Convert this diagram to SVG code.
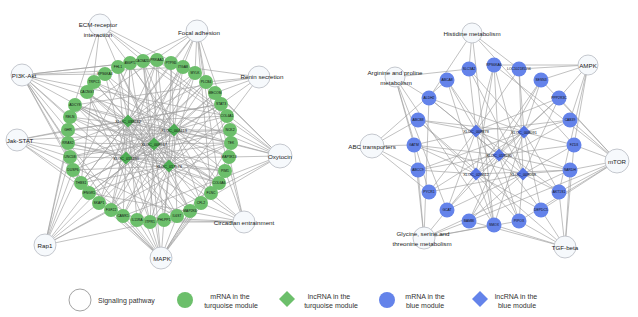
<svg xmlns="http://www.w3.org/2000/svg" xmlns:xlink="http://www.w3.org/1999/xlink" width="638" height="317" viewBox="0 0 638 317">
<style>
.e{stroke:#9f9f9f;stroke-width:0.65;fill:none}
.pw{fill:#f6f9fc;stroke:#b6bac2;stroke-width:0.8}
.gm{fill:#6cbf6b}
.gd{fill:#4eae55}
.bm{fill:#6483ea}
.bd{fill:#5675e4}
.t{font-family:"Liberation Sans",Arial,sans-serif;fill:#222;text-anchor:middle;dominant-baseline:central}
.p{font-size:6.2px}
.n{font-size:3.4px;fill:#111}
.s{font-size:2.8px}
.d{font-size:3.9px;fill:#111}
.lg{font-size:7px;fill:#333}
</style>
<defs>
<path id="dm" d="M0 -6.5L6.5 0 0 6.5 -6.5 0Z"/>
<path id="dml" d="M0 -8L8 0 0 8 -8 0Z"/>
</defs>
<rect width="638" height="317" fill="#fff"/>
<g id="connectors" class="e">
<path d="M128 121L87 92M128 121L94 82M128 121L118 67M128 121L130 63M128 121L157 60M128 121L171 63M128 121L195 73M128 121L206 82M128 121L221 104M128 121L227 116M128 121L231 143M128 121L229 157M128 121L219 183M128 121L211 193M128 121L190 211M128 121L177 216M128 121L150 222M128 121L137 220M128 121L111 210M128 121L99 203M128 121L81 183M128 121L73 170M128 121L68 143M128 121L68 130M128 121L75 105"/>
<path d="M174 130L94 82M174 130L105 74M174 130L130 63M174 130L143 61M174 130L171 63M174 130L183 67M174 130L206 82M174 130L215 93M174 130L227 116M174 130L230 130M174 130L229 157M174 130L225 171M174 130L211 193M174 130L201 203M174 130L177 216M174 130L164 220M174 130L137 220M174 130L123 216M174 130L99 203M174 130L89 193M174 130L73 170M174 130L70 157M174 130L68 130M174 130L70 117"/>
<path d="M154 144L87 92M154 144L105 74M154 144L118 67M154 144L143 61M154 144L157 60M154 144L183 67M154 144L195 73M154 144L215 93M154 144L221 104M154 144L230 130M154 144L231 143M154 144L225 171M154 144L219 183M154 144L201 203M154 144L190 211M154 144L164 220M154 144L150 222M154 144L123 216M154 144L111 210M154 144L89 193M154 144L81 183M154 144L70 157M154 144L68 143M154 144L70 117M154 144L75 105"/>
<path d="M126 158L87 92M126 158L105 74M126 158L118 67M126 158L130 63M126 158L157 60M126 158L183 67M126 158L195 73M126 158L206 82M126 158L221 104M126 158L230 130M126 158L231 143M126 158L229 157M126 158L219 183M126 158L201 203M126 158L190 211M126 158L177 216M126 158L150 222M126 158L123 216M126 158L111 210M126 158L99 203M126 158L81 183M126 158L70 157M126 158L68 143M126 158L68 130M126 158L75 105"/>
<path d="M169 166L87 92M169 166L94 82M169 166L118 67M169 166L143 61M169 166L157 60M169 166L171 63M169 166L195 73M169 166L215 93M169 166L221 104M169 166L227 116M169 166L231 143M169 166L225 171M169 166L219 183M169 166L211 193M169 166L190 211M169 166L164 220M169 166L150 222M169 166L137 220M169 166L111 210M169 166L89 193M169 166L81 183M169 166L73 170M169 166L68 143M169 166L70 117M169 166L75 105"/>
<path d="M100 25L118 67M100 25L143 61M100 25L183 67M100 25L227 116M100 25L219 183M100 25L81 183M100 25L70 117"/>
<path d="M197 31L130 63M197 31L171 63M197 31L183 67M197 31L195 73M197 31L206 82M197 31L227 116M197 31L219 183M197 31L211 193M197 31L111 210M197 31L81 183M197 31L70 117"/>
<path d="M259 77L143 61M259 77L206 82M259 77L215 93M259 77L221 104M259 77L150 222M259 77L75 105"/>
<path d="M22 75L105 74M22 75L130 63M22 75L157 60M22 75L183 67M22 75L227 116M22 75L231 143M22 75L219 183M22 75L177 216M22 75L111 210M22 75L89 193M22 75L81 183M22 75L68 143M22 75L68 130M22 75L70 117"/>
<path d="M17 140L221 104M17 140L230 130M17 140L225 171M17 140L177 216M17 140L137 220M17 140L89 193M17 140L70 157M17 140L68 130"/>
<path d="M280 156L94 82M280 156L143 61M280 156L157 60M280 156L195 73M280 156L206 82M280 156L230 130M280 156L231 143M280 156L229 157M280 156L201 203M280 156L150 222M280 156L123 216M280 156L75 105"/>
<path d="M45 245L130 63M45 245L183 67M45 245L206 82M45 245L231 143M45 245L164 220M45 245L111 210M45 245L99 203M45 245L73 170M45 245L70 157M45 245L68 143M45 245L75 105"/>
<path d="M161 258L87 92M161 258L130 63M161 258L143 61M161 258L231 143M161 258L229 157M161 258L211 193M161 258L201 203M161 258L190 211M161 258L177 216M161 258L164 220M161 258L150 222M161 258L137 220M161 258L123 216M161 258L111 210M161 258L99 203M161 258L73 170M161 258L68 143"/>
<path d="M244 222L206 82M244 222L215 93M244 222L225 171M244 222L211 193M244 222L201 203M244 222L150 222M244 222L137 220M244 222L123 216M244 222L89 193M244 222L75 105"/>
<path d="M476 131L494 65M476 131L519 69M476 131L559 98M476 131L570 120M476 131L570 170M476 131L559 192M476 131L519 221M476 131L494 225M476 131L447 210M476 131L429 192M476 131L414 145M476 131L418 120M476 131L447 80M476 131L469 69"/>
<path d="M524 132L519 69M524 132L541 80M524 132L570 120M524 132L574 145M524 132L559 192M524 132L541 210M524 132L494 225M524 132L469 221M524 132L429 192M524 132L418 170M524 132L418 120M524 132L429 98M524 132L469 69"/>
<path d="M499 155L494 65M499 155L541 80M499 155L559 98M499 155L574 145M499 155L570 170M499 155L541 210M499 155L519 221M499 155L469 221M499 155L447 210M499 155L418 170M499 155L414 145M499 155L429 98M499 155L447 80"/>
<path d="M476 174L494 65M476 174L541 80M476 174L570 120M476 174L570 170M476 174L541 210M476 174L494 225M476 174L447 210M476 174L418 170M476 174L418 120M476 174L447 80M476 174L559 98M476 174L519 221M476 174L414 145"/>
<path d="M523 174L519 69M523 174L559 98M523 174L574 145M523 174L559 192M523 174L519 221M523 174L469 221M523 174L429 192M523 174L414 145M523 174L429 98M523 174L469 69M523 174L494 65M523 174L570 170M523 174L447 210"/>
<path d="M472 33L429 98M472 33L519 69M472 33L494 225M472 33L574 145M472 33L469 69"/>
<path d="M395 77L429 98M395 77L429 192M395 77L414 145M395 77L494 225M395 77L469 69M395 77L447 210"/>
<path d="M588 65L494 65M588 65L519 69M588 65L541 80M588 65L559 98M588 65L570 120M588 65L574 145M588 65L559 192"/>
<path d="M372 146L429 192M372 146L418 170M372 146L414 145M372 146L418 120M372 146L447 80"/>
<path d="M617 161L494 65M617 161L541 80M617 161L559 98M617 161L570 120M617 161L574 145M617 161L570 170M617 161L559 192M617 161L541 210M617 161L519 221M617 161L469 221"/>
<path d="M424 238L570 170M424 238L519 221M424 238L494 225M424 238L469 221M424 238L447 210M424 238L418 170M424 238L414 145M424 238L429 98"/>
<path d="M565 247L574 145M565 247L570 170M565 247L559 192M565 247L541 210M565 247L519 221M565 247L494 225M565 247L469 221M565 247L418 120"/>
</g>
<g id="pathways">
<g id="p_ecm"><circle class="pw" cx="100" cy="25" r="11"/><text class="t p" x="98" y="24">ECM-receptor</text><text class="t p" x="98" y="34">interaction</text></g>
<g id="p_focal"><circle class="pw" cx="197" cy="31" r="11"/><text class="t p" x="199" y="32">Focal adhesion</text></g>
<g id="p_renin"><circle class="pw" cx="259" cy="77" r="11"/><text class="t p" x="262" y="76">Renin secretion</text></g>
<g id="p_pi3k"><circle class="pw" cx="22" cy="75" r="11"/><text class="t p" x="24" y="75">PI3K-Akt</text></g>
<g id="p_jak"><circle class="pw" cx="17" cy="140" r="11"/><text class="t p" x="20" y="140">Jak-STAT</text></g>
<g id="p_oxy"><circle class="pw" cx="280" cy="156" r="12"/><text class="t p" x="280" y="156">Oxytocin</text></g>
<g id="p_rap1"><circle class="pw" cx="45" cy="245" r="11"/><text class="t p" x="45" y="245">Rap1</text></g>
<g id="p_mapk"><circle class="pw" cx="161" cy="258" r="11"/><text class="t p" x="162" y="258">MAPK</text></g>
<g id="p_circ"><circle class="pw" cx="244" cy="222" r="11"/><text class="t p" x="244" y="222">Circadian entrainment</text></g>
<g id="p_his"><circle class="pw" cx="472" cy="33" r="10"/><text class="t p" x="472" y="33">Histidine metabolism</text></g>
<g id="p_arg"><circle class="pw" cx="395" cy="77" r="10"/><text class="t p" x="395" y="72">Arginine and proline</text><text class="t p" x="396" y="82">metabolism</text></g>
<g id="p_ampk"><circle class="pw" cx="588" cy="65" r="10"/><text class="t p" x="588" y="65">AMPK</text></g>
<g id="p_abc"><circle class="pw" cx="372" cy="146" r="12"/><text class="t p" x="372" y="146">ABC transporters</text></g>
<g id="p_mtor"><circle class="pw" cx="617" cy="161" r="12"/><text class="t p" x="617" y="161">mTOR</text></g>
<g id="p_gly"><circle class="pw" cx="424" cy="238" r="11"/><text class="t p" x="423" y="233">Glycine, serine and</text><text class="t p" x="422" y="243">threonine metabolism</text></g>
<g id="p_tgf"><circle class="pw" cx="565" cy="247" r="11"/><text class="t p" x="565" y="247">TGF-beta</text></g>
</g>
<g id="turquoise_mrna">
<g id="g1"><circle class="gm" cx="87" cy="92" r="7"/><text class="t n" x="87" y="92">CACNG7</text></g>
<g id="g2"><circle class="gm" cx="94" cy="82" r="7"/><text class="t n" x="94" y="82">TRPC1</text></g>
<g id="g3"><circle class="gm" cx="105" cy="74" r="7"/><text class="t n" x="105" y="74">RPS6KA3</text></g>
<g id="g4"><circle class="gm" cx="118" cy="67" r="7"/><text class="t n" x="118" y="67">FHL1</text></g>
<g id="g5"><circle class="gm" cx="130" cy="63" r="7"/><text class="t n s" x="130" y="63">ANGPT1</text></g>
<g id="g6"><circle class="gm" cx="143" cy="61" r="7"/><text class="t n s" x="143" y="61">CACNA2D1</text></g>
<g id="g7"><circle class="gm" cx="157" cy="60" r="7"/><text class="t n" x="157" y="60">PRKAA2</text></g>
<g id="g8"><circle class="gm" cx="171" cy="63" r="7"/><text class="t n" x="171" y="63">PTPN5</text></g>
<g id="g9"><circle class="gm" cx="183" cy="67" r="7"/><text class="t n" x="183" y="67">ITGA8</text></g>
<g id="g10"><circle class="gm" cx="195" cy="73" r="7"/><text class="t n" x="195" y="73">MYLK</text></g>
<g id="g11"><circle class="gm" cx="206" cy="82" r="7"/><text class="t n" x="206" y="82">PLCB4</text></g>
<g id="g12"><circle class="gm" cx="215" cy="93" r="7"/><text class="t n" x="215" y="93">MECOM</text></g>
<g id="g13"><circle class="gm" cx="221" cy="104" r="7"/><text class="t n" x="221" y="104">STAT3</text></g>
<g id="g14"><circle class="gm" cx="227" cy="116" r="7"/><text class="t n" x="227" y="116">COL4A1</text></g>
<g id="g15"><circle class="gm" cx="230" cy="130" r="7"/><text class="t n" x="230" y="130">NCK2</text></g>
<g id="g16"><circle class="gm" cx="231" cy="143" r="7"/><text class="t n" x="231" y="143">TEK</text></g>
<g id="g17"><circle class="gm" cx="229" cy="157" r="7"/><text class="t n" x="229" y="157">MAP3K13</text></g>
<g id="g18"><circle class="gm" cx="225" cy="171" r="7"/><text class="t n" x="225" y="171">PIM1</text></g>
<g id="g19"><circle class="gm" cx="219" cy="183" r="7"/><text class="t n" x="219" y="183">COL6A6</text></g>
<g id="g20"><circle class="gm" cx="211" cy="193" r="7"/><text class="t n" x="211" y="193">FLNC</text></g>
<g id="g21"><circle class="gm" cx="201" cy="203" r="7"/><text class="t n" x="201" y="203">CFL2</text></g>
<g id="g22"><circle class="gm" cx="190" cy="211" r="7"/><text class="t n" x="190" y="211">MAP2K6</text></g>
<g id="g23"><circle class="gm" cx="177" cy="216" r="7"/><text class="t n" x="177" y="216">IL6ST</text></g>
<g id="g24"><circle class="gm" cx="164" cy="220" r="7"/><text class="t n" x="164" y="220">PHLPP1</text></g>
<g id="g25"><circle class="gm" cx="150" cy="222" r="7"/><text class="t n" x="150" y="222">ITPR1</text></g>
<g id="g26"><circle class="gm" cx="137" cy="220" r="7"/><text class="t n" x="137" y="220">IL11RA</text></g>
<g id="g27"><circle class="gm" cx="123" cy="216" r="7"/><text class="t n" x="123" y="216">CAMK1</text></g>
<g id="g28"><circle class="gm" cx="111" cy="210" r="7"/><text class="t n" x="111" y="210">FGF22</text></g>
<g id="g29"><circle class="gm" cx="99" cy="203" r="7"/><text class="t n" x="99" y="203">SKAP1</text></g>
<g id="g30"><circle class="gm" cx="89" cy="193" r="7"/><text class="t n" x="89" y="193">IFNGR1</text></g>
<g id="g31"><circle class="gm" cx="81" cy="183" r="7"/><text class="t n" x="81" y="183">THBS1</text></g>
<g id="g32"><circle class="gm" cx="73" cy="170" r="7"/><text class="t n" x="73" y="170">DUSP6</text></g>
<g id="g33"><circle class="gm" cx="70" cy="157" r="7"/><text class="t n" x="70" y="157">UNC5B</text></g>
<g id="g34"><circle class="gm" cx="68" cy="143" r="7"/><text class="t n" x="68" y="143">RRAS2</text></g>
<g id="g35"><circle class="gm" cx="68" cy="130" r="7"/><text class="t n" x="68" y="130">GHR</text></g>
<g id="g36"><circle class="gm" cx="70" cy="117" r="7"/><text class="t n" x="70" y="117">RELN</text></g>
<g id="g37"><circle class="gm" cx="75" cy="105" r="7"/><text class="t n" x="75" y="105">ADCY8</text></g>
</g>
<g id="turquoise_lncrna">
<g id="gd1"><use href="#dm" class="gd" x="128" y="121"/><text class="t d" x="128" y="121">XLOC_038662</text></g>
<g id="gd2"><use href="#dm" class="gd" x="174" y="130"/><text class="t d" x="174" y="130">XLOC_004419</text></g>
<g id="gd3"><use href="#dm" class="gd" x="154" y="144"/><text class="t d" x="154" y="144">XLOC_008637</text></g>
<g id="gd4"><use href="#dm" class="gd" x="126" y="158"/><text class="t d" x="126" y="158">XLOC_015450</text></g>
<g id="gd5"><use href="#dm" class="gd" x="169" y="166"/><text class="t d" x="169" y="166">XLOC_017578</text></g>
</g>
<g id="blue_mrna">
<g id="b0"><circle class="bm" cx="494" cy="65" r="7.5"/><text class="t n" x="494" y="65">RPS6KA6</text></g>
<g id="b1"><circle class="bm" cx="519" cy="69" r="7.5"/><text class="t n" x="519" y="69">LOC102185156</text></g>
<g id="b2"><circle class="bm" cx="541" cy="80" r="7.5"/><text class="t n" x="541" y="80">SESN3</text></g>
<g id="b3"><circle class="bm" cx="559" cy="98" r="7.5"/><text class="t n" x="559" y="98">PPP2R3C</text></g>
<g id="b4"><circle class="bm" cx="570" cy="120" r="7.5"/><text class="t n" x="570" y="120">CAB39</text></g>
<g id="b5"><circle class="bm" cx="574" cy="145" r="7.5"/><text class="t n" x="574" y="145">FZD3</text></g>
<g id="b6"><circle class="bm" cx="570" cy="170" r="7.5"/><text class="t n" x="570" y="170">SARDH</text></g>
<g id="b7"><circle class="bm" cx="559" cy="192" r="7.5"/><text class="t n" x="559" y="192">AKT1S1</text></g>
<g id="b8"><circle class="bm" cx="541" cy="210" r="7.5"/><text class="t n" x="541" y="210">DEPDC5</text></g>
<g id="b9"><circle class="bm" cx="519" cy="221" r="7.5"/><text class="t n" x="519" y="221">PIPOX</text></g>
<g id="b10"><circle class="bm" cx="494" cy="225" r="7.5"/><text class="t n" x="494" y="225">SMOX</text></g>
<g id="b11"><circle class="bm" cx="469" cy="221" r="7.5"/><text class="t n" x="469" y="221">BAMBI</text></g>
<g id="b12"><circle class="bm" cx="447" cy="210" r="7.5"/><text class="t n" x="447" y="210">GCAT</text></g>
<g id="b13"><circle class="bm" cx="429" cy="192" r="7.5"/><text class="t n" x="429" y="192">PYCR1</text></g>
<g id="b14"><circle class="bm" cx="418" cy="170" r="7.5"/><text class="t n" x="418" y="170">ABCC9</text></g>
<g id="b15"><circle class="bm" cx="414" cy="145" r="7.5"/><text class="t n" x="414" y="145">GATM</text></g>
<g id="b16"><circle class="bm" cx="418" cy="120" r="7.5"/><text class="t n" x="418" y="120">ABCB8</text></g>
<g id="b17"><circle class="bm" cx="429" cy="98" r="7.5"/><text class="t n" x="429" y="98">ALDH2</text></g>
<g id="b18"><circle class="bm" cx="447" cy="80" r="7.5"/><text class="t n" x="447" y="80">ABCA8</text></g>
<g id="b19"><circle class="bm" cx="469" cy="69" r="7.5"/><text class="t n" x="469" y="69">SLC3A2</text></g>
</g>
<g id="blue_lncrna">
<g id="bd1"><use href="#dm" class="bd" x="476" y="131"/><text class="t d" x="476" y="131">XLOC_008878</text></g>
<g id="bd2"><use href="#dm" class="bd" x="524" y="132"/><text class="t d" x="524" y="132">XLOC_008091</text></g>
<g id="bd3"><use href="#dm" class="bd" x="499" y="155"/><text class="t d" x="499" y="155">XLOC_019530</text></g>
<g id="bd4"><use href="#dm" class="bd" x="476" y="174"/><text class="t d" x="476" y="174">XLOC_020612</text></g>
<g id="bd5"><use href="#dm" class="bd" x="523" y="174"/><text class="t d" x="523" y="174">XLOC_009068</text></g>
</g>
<g id="legend">
<circle cx="80" cy="300" r="11" fill="#fff" stroke="#8a8a8a" stroke-width="0.8"/>
<text class="t lg" x="98" y="300" style="text-anchor:start">Signaling pathway</text>
<circle class="gm" cx="185" cy="300" r="8"/>
<text class="t lg" x="230" y="296">mRNA in the</text><text class="t lg" x="231" y="305">turquoise module</text>
<use href="#dml" class="gm" x="287" y="299"/>
<text class="t lg" x="329" y="296">lncRNA in the</text><text class="t lg" x="331" y="305">turquoise module</text>
<circle class="bm" cx="387" cy="300" r="8"/>
<text class="t lg" x="425" y="296">mRNA in the</text><text class="t lg" x="425" y="305">blue module</text>
<use href="#dml" class="bm" x="480" y="299"/>
<text class="t lg" x="516" y="296">lncRNA in the</text><text class="t lg" x="517" y="305">blue module</text>
</g>
</svg>
